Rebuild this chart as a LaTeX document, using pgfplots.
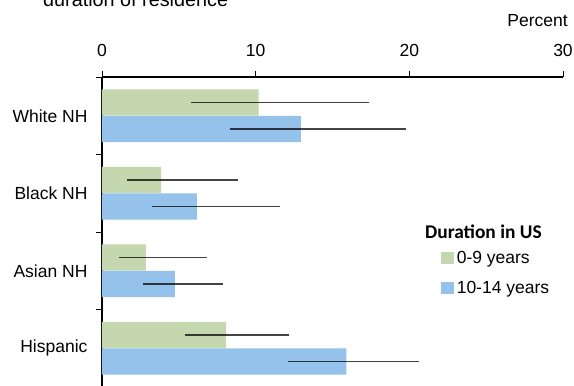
\documentclass[border=0pt]{standalone}
\usepackage{pgfplots}
\pgfplotsset{compat=1.18}
\usepackage{fontspec}
\setmainfont{Liberation Sans}
\newfontfamily\legfont{Carlito}
\definecolor{cg}{HTML}{C4D7AE}
\definecolor{cb}{HTML}{95C2EA}
\pgfplotstableread{
v y ep em
10.2 3.171 7.2 4.4
3.84 2.171 4.99 2.21
2.86 1.171 3.97 1.76
8.07 0.171 4.13 2.67
}\greendata
\pgfplotstableread{
v y ep em
12.95 2.829 6.85 4.65
6.18 1.829 5.42 2.93
4.75 0.829 3.15 2.05
15.9 -0.171 4.7 3.8
}\bluedata
\begin{document}
\begin{tikzpicture}[x=1pt,y=1pt]
\begin{axis}[at={(102pt,-77pt)}, anchor=north west, scale only axis,
  width=461pt, height=310pt,
  xmin=0, xmax=30, ymin=-0.5, ymax=3.5,
  axis x line*=top, axis y line*=left,
  axis line style={line width=1.1pt, black},
  xtick={0,10,20,30},
  ytick={0.5,1.5,2.5,3.5}, yticklabels={},
  extra y ticks={0,1,2,3},
  extra y tick labels={Hispanic,Asian NH,Black NH,White NH},
  extra y tick style={major tick length=0pt},
  tick align=outside, major tick length=6pt,
  tick style={black, line width=0.8pt},
  /pgf/number format/assume math mode=true,
  ticklabel style={font=\fontsize{17.5}{21}\selectfont},
  xticklabel style={yshift=11pt},
  yticklabel style={xshift=-11pt},
  legend style={draw=none, fill=none, at={(rel axis cs:0.729,0.368)}, anchor=west,
    font=\fontsize{17.5}{21}\selectfont, row sep=16pt,
    /tikz/every odd column/.append style={column sep=3pt},
    nodes={inner sep=0pt}},
  legend cell align=left,
  legend image code/.code={\fill[#1] (0pt,-6pt) rectangle (12.5pt,6pt);},
  error bars/error bar style={line width=1.8pt, black, opacity=0.72},
]
\addplot[xbar, bar width=0.34, bar shift=0pt, fill=cg, draw=none,
  error bars/.cd, x dir=both, x explicit, error mark=none]
  table[x=v, y=y, x error plus=ep, x error minus=em] {\greendata};
\addlegendentry{0-9 years}
\addplot[xbar, bar width=0.34, bar shift=0pt, fill=cb, draw=none,
  error bars/.cd, x dir=both, x explicit, error mark=none]
  table[x=v, y=y, x error plus=ep, x error minus=em] {\bluedata};
\addlegendentry{10-14 years}
\end{axis}
\node[anchor=base west, font=\fontsize{19.8}{24}\selectfont, inner sep=0pt] at (43pt,-6.5pt) {duration of residence};
\node[anchor=east, font=\fontsize{17.5}{21}\selectfont, inner sep=0pt] at (568pt,-21pt) {Percent};
\node[anchor=west, font=\legfont\bfseries\fontsize{19.4}{23}\selectfont, inner sep=0pt] at (425pt,-232pt) {Duration in US};
\pgfresetboundingbox
\path[use as bounding box] (0pt,0pt) rectangle (574pt,-386pt);
\end{tikzpicture}
\end{document}
